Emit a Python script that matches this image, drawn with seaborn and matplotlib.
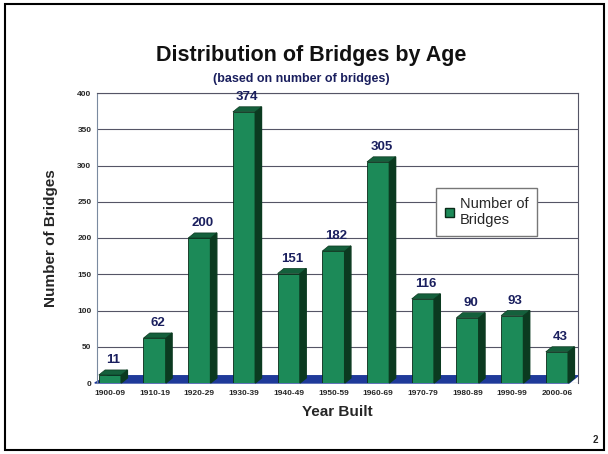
import matplotlib
matplotlib.use("Agg")
import matplotlib.pyplot as plt
import seaborn as sns
import pandas as pd
from matplotlib.patches import Polygon, Rectangle

decades = ["1900-09", "1910-19", "1920-29", "1930-39", "1940-49", "1950-59",
           "1960-69", "1970-79", "1980-89", "1990-99", "2000-06"]
counts = [11, 62, 200, 374, 151, 182, 305, 116, 90, 93, 43]
y_ticks = [0, 50, 100, 150, 200, 250, 300, 350, 400]

df = pd.DataFrame({"Year Built": decades, "Number of Bridges": counts})

sns.set_style("white")
plt.rcParams["font.family"] = ["Liberation Sans", "DejaVu Sans"]

fig = plt.figure(figsize=(6.08, 4.54), dpi=100)
ax = fig.add_axes([97/608, 1-383/454, (578-97)/608, 290/454])

front = "#1c8a58"
side = "#0b3a20"
top_c = "#14603c"
navy = "#1a1f5e"

sns.barplot(data=df, x="Year Built", y="Number of Bridges", color=front,
            width=0.5, saturation=1, ax=ax, zorder=3, edgecolor="#0a2a18",
            linewidth=0.6)

bars = list(ax.patches)
dx, dy = 0.14, 7.0
xl, xr = -0.29, 10.47
floor = Polygon([(xl - 0.05, 0), (xr - 0.2, 0), (xr, 10), (xl + 0.25, 10)],
                closed=True, facecolor="#1f3a9a", edgecolor="#1f3a9a", zorder=1,
                clip_on=False)
ax.add_patch(floor)

for p in bars:
    x0 = p.get_x(); w = p.get_width(); h = p.get_height()
    x1 = x0 + w
    ax.add_patch(Polygon([(x1, 0), (x1 + dx, dy), (x1 + dx, h + dy), (x1, h)],
                         closed=True, facecolor=side, edgecolor=side, zorder=3,
                         clip_on=False))
    ax.add_patch(Polygon([(x0, h), (x1, h), (x1 + dx, h + dy), (x0 + dx, h + dy)],
                         closed=True, facecolor=top_c, edgecolor=side, lw=0.5,
                         zorder=3, clip_on=False))

for i, v in enumerate(counts):
    ax.text(i + 0.07, v + dy + 5, str(v), ha="center", va="bottom",
            fontsize=9.5, fontweight="bold", color=navy, zorder=5)

ax.set_ylim(0, 400)
ax.set_xlim(xl, xr)
ax.set_yticks(y_ticks)
ax.set_yticklabels([str(t) for t in y_ticks], fontsize=6, fontweight="bold")
for t in y_ticks:
    ax.axhline(t, color="#555566", lw=0.8, zorder=0)
ax.tick_params(axis="y", length=3, width=0.6, pad=1)
ax.tick_params(axis="x", length=0, pad=5)
for lab in ax.get_xticklabels():
    lab.set_fontsize(6)
    lab.set_fontweight("bold")
ax.set_xlabel("Year Built", fontsize=11, fontweight="bold", labelpad=6)
ax.set_ylabel("Number of Bridges", fontsize=11, fontweight="bold", labelpad=14)
for s in ["top", "right"]:
    ax.spines[s].set_color("#555566")
    ax.spines[s].set_linewidth(0.8)
ax.spines["left"].set_color("#7a8aa0")
ax.spines["bottom"].set_visible(False)

ax.legend(handles=[Rectangle((0, 0), 1, 1, facecolor=front, edgecolor="#0a2a18")],
          labels=["Number of\nBridges"], loc="center", bbox_to_anchor=(0.81, 0.59),
          fontsize=10.5, frameon=True, fancybox=False, edgecolor="#777777",
          handlelength=0.6, handleheight=0.6, handletextpad=0.4,
          borderpad=0.6, framealpha=1)

fig.text(311/608, 1-55/454, "Distribution of Bridges by Age", ha="center",
         va="center", fontsize=15.5, fontweight="bold", color="#111111")
fig.text(301/608, 1-79/454, "(based on number of bridges)", ha="center",
         va="center", fontsize=9, fontweight="bold", color=navy)
fig.text(595/608, 1-440/454, "2", ha="center", va="center", fontsize=7,
         fontweight="bold")
fig.patches.append(Rectangle((5/608, 1-450/454), 599/608, 446/454,
                             transform=fig.transFigure, fill=False,
                             edgecolor="black", lw=1.5))

fig.savefig("out.png", dpi=100)
